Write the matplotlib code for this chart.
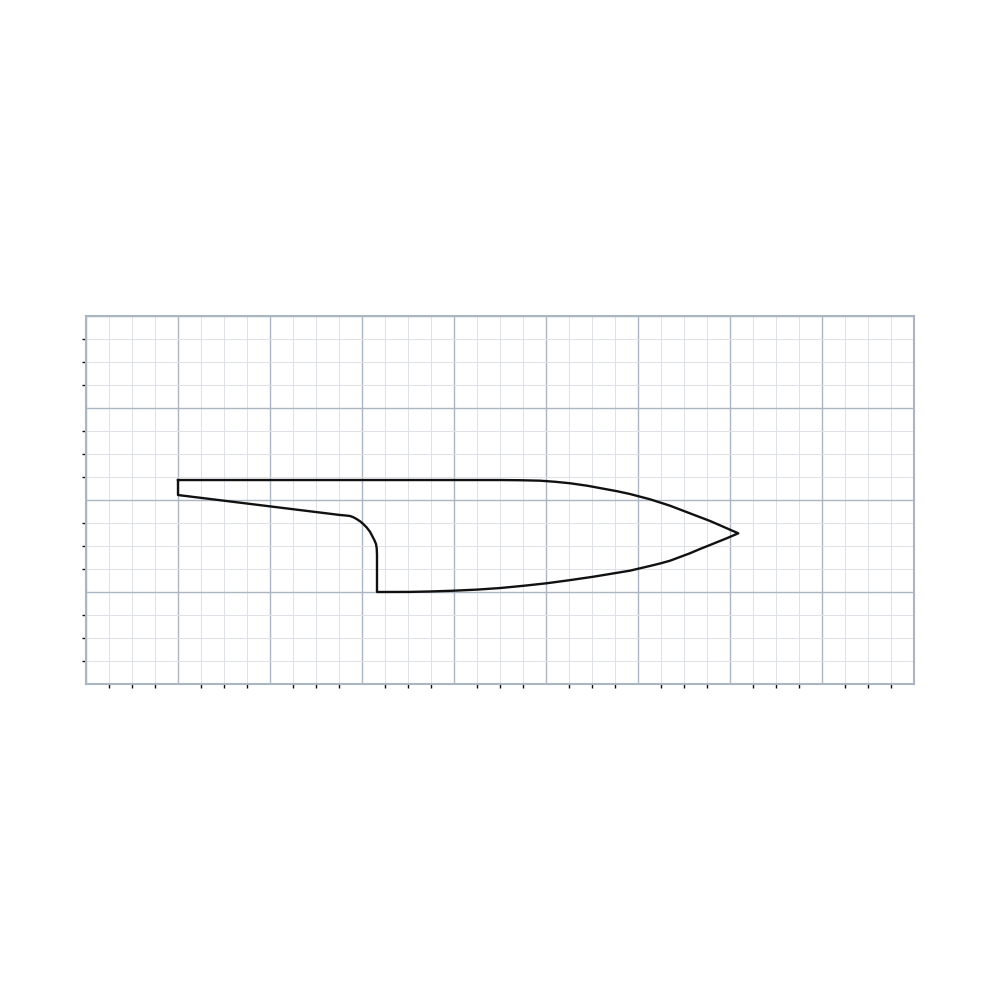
import matplotlib
matplotlib.use('Agg')
import matplotlib.pyplot as plt
from matplotlib.ticker import MultipleLocator, NullFormatter

# outline of the profile, going round from the top left corner
profile_x = [1.0, 4.5, 4.717, 4.935, 5.1, 5.261, 5.45, 5.623, 5.77, 5.913, 6.13, 6.348, 6.565, 6.783, 6.93, 7.09,
             6.964, 6.783, 6.675, 6.565, 6.348, 6.24, 6.13, 5.913, 5.72, 5.514, 5.26, 5.008, 4.75, 4.5, 4.25, 3.992,
             3.75, 3.522, 3.163, 3.163, 3.16, 3.152, 3.134, 3.087, 3.052, 3.014, 2.98, 2.942, 2.905, 2.87, 2.82,
             2.761, 1.0, 1.0]
profile_y = [2.217, 2.217, 2.215, 2.21, 2.198, 2.182, 2.155, 2.123, 2.096, 2.065, 2.008, 1.938, 1.855, 1.772, 1.708, 1.638,
             1.584, 1.511, 1.468, 1.421, 1.34, 1.31, 1.283, 1.232, 1.2, 1.166, 1.129, 1.095, 1.067, 1.043, 1.026, 1.014,
             1.006, 1.001, 1.0, 1.402, 1.475, 1.522, 1.565, 1.655, 1.7, 1.739, 1.768, 1.793, 1.813, 1.826, 1.832,
             1.837, 2.054, 2.217]

x_limits = [0, 9]
y_limits = [0, 4]
major_step = 1
minor_step = 0.25

major_color = '#aab7c2'
minor_color = '#dde2e6'

fig = plt.figure(figsize=(10, 10), dpi=100)
ax = fig.add_axes([0.086, 0.316, 0.828, 0.368])

ax.plot(profile_x, profile_y, color='#111111', linewidth=1.7, solid_joinstyle='round', zorder=3)

ax.set_xlim(x_limits)
ax.set_ylim(y_limits)

ax.xaxis.set_major_locator(MultipleLocator(major_step))
ax.yaxis.set_major_locator(MultipleLocator(major_step))
ax.xaxis.set_minor_locator(MultipleLocator(minor_step))
ax.yaxis.set_minor_locator(MultipleLocator(minor_step))
ax.xaxis.set_major_formatter(NullFormatter())
ax.yaxis.set_major_formatter(NullFormatter())

ax.grid(which='major', color=major_color, linewidth=1.0, zorder=1)
ax.grid(which='minor', color=minor_color, linewidth=0.7, zorder=0)
ax.set_axisbelow(True)

ax.tick_params(which='major', length=0)
ax.tick_params(which='minor', length=3, width=1.0, color='#111111')

for spine in ax.spines.values():
    spine.set_color(major_color)
    spine.set_linewidth(1.5)

fig.savefig('out.png', dpi=100, facecolor='white')
